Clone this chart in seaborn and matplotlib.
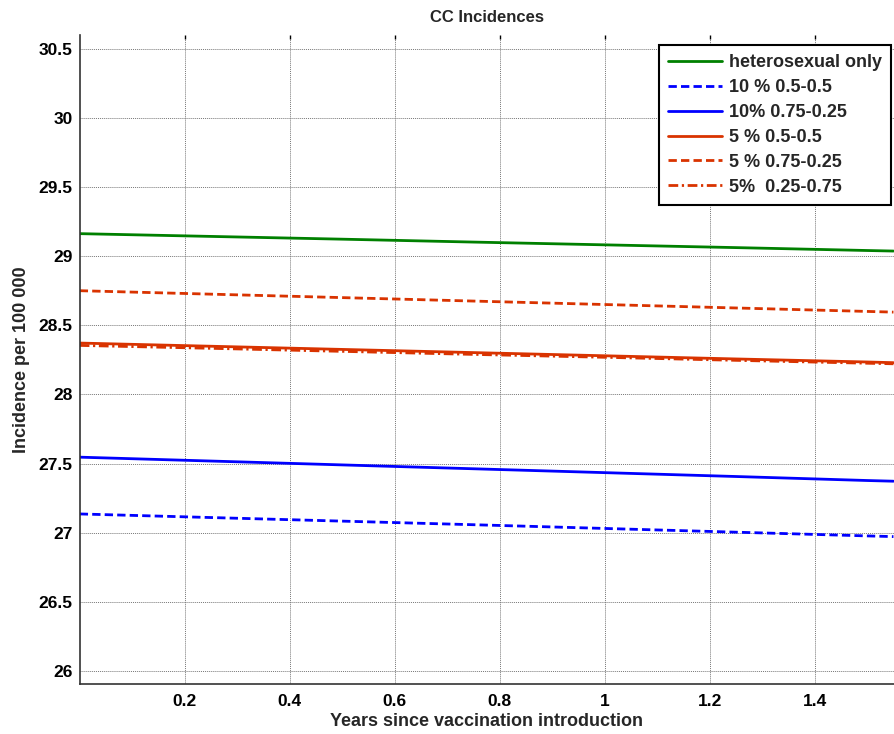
import matplotlib
matplotlib.use("Agg")
import matplotlib.pyplot as plt
import seaborn as sns
import pandas as pd

# ---- data ----
years = [0.0, 0.25, 0.5, 0.75, 1.0, 1.25, 1.5, 1.55]
hetero_only = [29.164, 29.144, 29.124, 29.103, 29.083, 29.063, 29.042, 29.038]
ten_05_05 = [27.135, 27.109, 27.083, 27.057, 27.030, 27.003, 26.976, 26.971]
ten_075_025 = [27.546, 27.518, 27.490, 27.462, 27.434, 27.406, 27.377, 27.372]
five_05_05 = [28.372, 28.349, 28.326, 28.303, 28.280, 28.257, 28.235, 28.230]
five_075_025 = [28.751, 28.726, 28.701, 28.676, 28.651, 28.626, 28.601, 28.596]
five_025_075 = [28.355, 28.334, 28.312, 28.290, 28.269, 28.247, 28.226, 28.222]

series_names = ["heterosexual only", "10 % 0.5-0.5", "10% 0.75-0.25",
                "5 % 0.5-0.5", "5 % 0.75-0.25", "5%  0.25-0.75"]
series_values = [hetero_only, ten_05_05, ten_075_025,
                 five_05_05, five_075_025, five_025_075]

title = "CC Incidences"
xlabel = "Years since vaccination introduction"
ylabel = "Incidence per 100 000"
xticks = [0.2, 0.4, 0.6, 0.8, 1.0, 1.2, 1.4]
xticklabels = ["0.2", "0.4", "0.6", "0.8", "1", "1.2", "1.4"]
yticks = [26, 26.5, 27, 27.5, 28, 28.5, 29, 29.5, 30, 30.5]
yticklabels = ["26", "26.5", "27", "27.5", "28", "28.5", "29", "29.5", "30", "30.5"]

# ---- styling ----
sns.set_style("white")
plt.rcParams["font.family"] = ["Liberation Sans", "DejaVu Sans"]
plt.rcParams["font.weight"] = "bold"

colors = ["#008000", "#0000ff", "#0000ff", "#d93300", "#d93300", "#d93300"]
dashes = [None, (3, 1.5), None, None, (3, 1.5), (3.5, 1.3, 0.8, 1.3)]

rows = []
for name, vals in zip(series_names, series_values):
    for x, y in zip(years, vals):
        rows.append({"year": x, "value": y, "series": name})
df = pd.DataFrame(rows)

fig = plt.figure(figsize=(8.94, 7.34), dpi=100)
ax = fig.add_axes([79.7 / 894, 50 / 734, 1 - 79.7 / 894, 649 / 734])

for name, col, d in zip(series_names, colors, dashes):
    sub = df[df["series"] == name]
    sns.lineplot(data=sub, x="year", y="value", ax=ax, color=col,
                 linewidth=2.0, label=name, legend=False)
    l = ax.lines[-1]
    if d is not None:
        l.set_dashes(d)

ax.set_xlim(0, (894 - 79.7) / 525.0)
ax.set_ylim(25.904, 30.602)
ax.set_xticks(xticks)
ax.set_xticklabels(xticklabels)
ax.set_yticks(yticks)
ax.set_yticklabels(yticklabels)

ax.grid(True, color="#777777", linestyle=(0, (1, 1)), linewidth=0.7)
ax.tick_params(axis="both", direction="in", length=3, width=1,
               labelsize=12.5, colors="black", top=True, right=False)
ax.tick_params(axis="x", pad=7)
ax.tick_params(axis="y", pad=5)
for lab in ax.get_xticklabels() + ax.get_yticklabels():
    lab.set_fontweight("bold")

for s in ["top", "right"]:
    ax.spines[s].set_visible(False)
for s in ["left", "bottom"]:
    ax.spines[s].set_color("#333333")
    ax.spines[s].set_linewidth(1.2)

ax.set_title(title, fontsize=12, fontweight="bold", pad=9)
ax.set_xlabel(xlabel, fontsize=13, fontweight="bold", labelpad=3)
ax.set_ylabel(ylabel, fontsize=13, fontweight="bold", labelpad=6)

handles = ax.lines[:len(series_names)]
leg = ax.legend(handles, series_names, loc="upper right",
                bbox_to_anchor=(891 / 894, 1 - 45 / 734),
                bbox_transform=fig.transFigure,
                frameon=True, fancybox=False, framealpha=1, edgecolor="black",
                fontsize=13, handlelength=2.95, handletextpad=0.4,
                labelspacing=0.44, borderpad=0.5, borderaxespad=0)
leg.get_frame().set_linewidth(1.5)
for t in leg.get_texts():
    t.set_fontweight("bold")

fig.savefig("out.png", dpi=100)
